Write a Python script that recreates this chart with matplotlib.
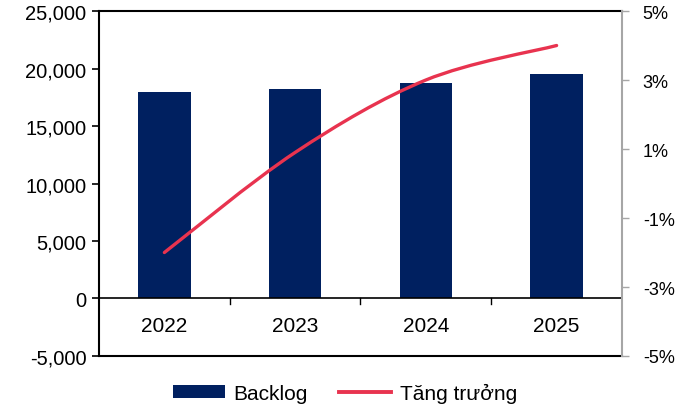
import matplotlib
matplotlib.use("Agg")
import matplotlib.pyplot as plt
from matplotlib.path import Path
from matplotlib.patches import PathPatch, Patch
from matplotlib.lines import Line2D
from matplotlib.ticker import FuncFormatter

plt.rcParams['font.family'] = ['Liberation Sans', 'DejaVu Sans']

years = ["2022", "2023", "2024", "2025"]
backlog = [18000, 18200, 18730, 19490]
growth = [-2.0, 0.9, 3.0, 4.0]  # %

BAR_COLOR = "#002060"
LINE_COLOR = "#E8334F"


def smooth_path(xs, ys):
    """Excel-style smoothed line: cubic Bezier through every point."""
    pts = list(zip(xs, ys))
    n = len(pts)
    verts = [pts[0]]
    codes = [Path.MOVETO]
    for i in range(n - 1):
        p0 = pts[i - 1] if i > 0 else pts[i]
        p1 = pts[i]
        p2 = pts[i + 1]
        p3 = pts[i + 2] if i + 2 < n else pts[i + 1]
        c1 = (p1[0] + (p2[0] - p0[0]) / 6, p1[1] + (p2[1] - p0[1]) / 6)
        c2 = (p2[0] - (p3[0] - p1[0]) / 6, p2[1] - (p3[1] - p1[1]) / 6)
        verts += [c1, c2, p2]
        codes += [Path.CURVE4] * 3
    return Path(verts, codes)


fig = plt.figure(figsize=(6.9, 4.06), dpi=100)
ax = fig.add_axes([0.1435, 0.1207, 0.7579, 0.8497])

x = list(range(len(years)))
ax.bar(x, backlog, width=0.4, color=BAR_COLOR, zorder=2)

ax.set_xlim(-0.5, len(years) - 0.5)
ax.set_ylim(-5000, 25000)
ax.set_yticks(range(-5000, 25001, 5000))
ax.yaxis.set_major_formatter(FuncFormatter(lambda v, p: f"{int(v):,}"))
ax.tick_params(axis='y', direction='out', length=5, width=1.2, labelsize=14.5, pad=4)
ax.set_xticks([])

# category axis sits on zero, with separator ticks between years
ax.axhline(0, color='black', lw=1.2, zorder=3)
for b in [0.5, 1.5, 2.5]:
    ax.plot([b, b], [0, -480], color='black', lw=1.0, zorder=3, clip_on=False)
for xi, lab in zip(x, years):
    ax.text(xi, -2350, lab, ha='center', va='center', fontsize=15)

for side in ['left', 'top', 'bottom']:
    ax.spines[side].set_linewidth(1.5)
    ax.spines[side].set_color('black')
ax.spines['right'].set_visible(False)

ax2 = ax.twinx()
ax2.set_ylim(-5, 5)
ax2.set_yticks([-5, -3, -1, 1, 3, 5])
ax2.yaxis.set_major_formatter(FuncFormatter(lambda v, p: f"{int(v)}%"))
ax2.tick_params(axis='y', direction='out', length=5, width=1.0, color='#a6a6a6',
                labelsize=13, pad=10)
for side in ['left', 'top', 'bottom']:
    ax2.spines[side].set_visible(False)
ax2.spines['right'].set_color('#a6a6a6')
ax2.spines['right'].set_linewidth(1.5)

ax2.add_patch(PathPatch(smooth_path(x, growth), facecolor='none', edgecolor=LINE_COLOR,
                        lw=2.4, capstyle='round', zorder=4))

handles = [Patch(facecolor=BAR_COLOR, edgecolor='none'),
           Line2D([], [], color=LINE_COLOR, lw=2.8)]
fig.legend(handles, ["Backlog", "Tăng trưởng"], loc='center', bbox_to_anchor=(0.5, 0.03),
           ncol=2, frameon=False, fontsize=15, handlelength=2.5, handleheight=0.6,
           columnspacing=1.5, handletextpad=0.4)

fig.savefig("out.png", dpi=100)
